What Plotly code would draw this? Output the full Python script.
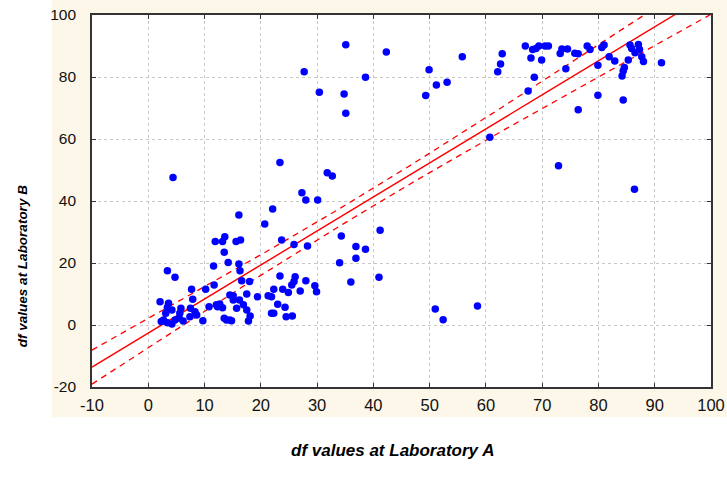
import numpy as np
import plotly.graph_objects as go

# df values at Laboratory A (x) and Laboratory B (y)
lab_a = [
    27.3, 28.0, 30.1, 16.1, 22.1, 20.7, 13.6, 13.2, 11.9, 15.6, 16.4, 13.5, 23.7, 25.9, 28.3,
    11.6, 14.2, 16.1, 16.3, 10.2, 11.7, 16.6, 18.0, 23.4, 26.1, 25.9, 25.5, 28.0, 29.6, 29.9,
    22.3, 23.9, 24.9, 27.0, 17.5, 19.4, 21.3, 21.9, 14.5, 15.1, 16.2, 16.9, 15.7, 17.5, 18.1,
    12.7, 12.3, 13.2, 10.8, 23.0, 24.3, 21.9, 22.3, 24.5, 25.6, 13.5, 14.8, 17.8, 9.7,
    4.4, 3.4, 4.75, 2.1, 3.6, 3.4, 4.2, 3.1, 2.7, 2.3, 3.4, 4.2, 4.75, 5.6, 5.8, 5.5, 6.2,
    7.7, 7.9, 7.5, 8.3, 7.4, 8.6, 12.1, 13.9, 14.5, 15.1,
    31.8, 32.7, 41.2, 34.3, 36.9, 38.6, 36.9, 34.0, 36.0, 41.0, 23.4,
    27.7, 30.4, 35.1, 34.8, 35.1, 38.6, 42.3, 49.9, 49.3, 51.2, 53.1, 55.8,
    62.1, 62.6, 62.9, 67.0, 68.0, 68.3, 68.9, 69.4, 69.9, 70.5, 71.1, 68.6, 67.5, 73.2, 73.5,
    74.5, 74.2, 75.8, 76.4, 78.0, 78.5, 80.6, 81.0, 81.9, 82.9, 79.9, 79.9, 76.4, 60.7, 72.9,
    84.2, 84.4, 84.6, 84.4, 85.3, 85.6, 85.9, 86.5, 87.1, 87.3, 87.7, 88.0, 91.2,
    51.0, 52.4, 58.5, 86.4,
]
lab_b = [
    42.7, 40.3, 40.3, 35.5, 37.4, 32.6, 28.5, 26.9, 26.9, 26.9, 27.4, 23.5, 27.4, 26.0, 25.5,
    19.0, 20.2, 19.7, 17.5, 11.5, 12.9, 14.3, 14.0, 15.8, 15.6, 14.0, 12.9, 14.3, 12.7, 10.7,
    11.5, 11.5, 10.5, 11.0, 10.0, 9.1, 9.4, 9.1, 9.7, 8.1, 8.1, 6.5, 5.4, 4.8, 2.9,
    6.8, 5.9, 5.6, 5.9, 6.7, 5.7, 3.8, 3.8, 2.7, 2.9, 2.2, 1.4, 1.3, 1.4,
    47.6, 17.5, 15.4, 7.5, 7.0, 5.7, 4.8, 3.8, 1.6, 1.1, 0.7, 0.3, 1.6, 3.8, 5.4, 2.2, 1.3,
    11.5, 8.3, 5.4, 4.3, 2.7, 3.2, 6.5, 1.6, 1.6, 9.4,
    49.1, 48.1, 30.6, 28.7, 25.3, 24.4, 21.5, 20.1, 13.9, 15.4, 52.4,
    81.7, 75.1, 90.4, 74.5, 68.3, 79.9, 88.1, 82.3, 74.0, 77.4, 78.3, 86.5,
    81.7, 84.2, 87.5, 90.0, 86.1, 88.9, 89.2, 90.0, 85.5, 90.0, 90.0, 79.9, 75.5, 87.6, 89.0,
    89.0, 82.7, 87.7, 87.5, 90.0, 88.9, 89.5, 90.3, 86.5, 85.2, 83.8, 74.1, 69.4, 60.6, 51.4,
    80.3, 81.9, 83.1, 72.6, 85.5, 90.3, 89.2, 87.8, 90.5, 88.9, 86.5, 85.0, 84.6,
    5.2, 1.7, 6.1, 43.8,
]

# fitted regression line
fit_intercept = -2.6
fit_slope = 1.0976

x_ticks = [-10, 0, 10, 20, 30, 40, 50, 60, 70, 80, 90, 100]
x_tick_labels = ["-10", "0", "10", "20", "30", "40", "50", "60", "70", "80", "90", "100"]
y_ticks = [-20, 0, 20, 40, 60, 80, 100]
y_tick_labels = ["-20", "0", "20", "40", "60", "80", "100"]
x_title = "df values at Laboratory A"
y_title = "df values at Laboratory B"

# 95% confidence band of the fitted line
xa = np.array(lab_a)
yb = np.array(lab_b)
n = len(xa)
resid = yb - (fit_intercept + fit_slope * xa)
s = np.sqrt(np.sum(resid ** 2) / (n - 2))
sxx = np.sum((xa - xa.mean()) ** 2)
t_val = 1.975
xf = np.linspace(-10, 100, 300)
yf = fit_intercept + fit_slope * xf
half = t_val * s * np.sqrt(1.0 / n + (xf - xa.mean()) ** 2 / sxx)

fig = go.Figure()
red = "#FF0000"
fig.add_trace(go.Scatter(x=xf, y=yf + half, mode="lines",
                         line=dict(color=red, width=1.3, dash="6px,5px"), hoverinfo="skip"))
fig.add_trace(go.Scatter(x=xf, y=yf - half, mode="lines",
                         line=dict(color=red, width=1.3, dash="6px,5px"), hoverinfo="skip"))
fig.add_trace(go.Scatter(x=xf, y=yf, mode="lines",
                         line=dict(color=red, width=1.4), hoverinfo="skip"))
fig.add_trace(go.Scatter(x=lab_a, y=lab_b, mode="markers",
                         marker=dict(color="#0000FF", size=7.5, line=dict(width=0))))

cream = "#FCF7E9"
fig.update_layout(
    width=727, height=490,
    margin=dict(l=92, r=16, t=15, b=103),
    paper_bgcolor="white", plot_bgcolor="white",
    showlegend=False,
    font=dict(family="Liberation Sans, Arial, sans-serif", size=15, color="#111111"),
    shapes=[
        dict(type="rect", xref="paper", yref="paper", x0=-0.0646, x1=1.03, y0=-0.0806, y1=1.05,
             fillcolor=cream, line=dict(width=0), layer="below"),
        dict(type="rect", xref="paper", yref="paper", x0=0, x1=1, y0=0, y1=1,
             fillcolor="white", line=dict(width=0), layer="below"),
    ],
    annotations=[
        dict(text=x_title, xref="paper", yref="paper", x=0.4847, y=-0.172,
             showarrow=False, xanchor="center", yanchor="middle",
             font=dict(size=17, weight="bold", style="italic", color="black")),
        dict(text=y_title, xref="paper", yref="paper", x=-0.113, y=0.325, textangle=-90,
             showarrow=False, xanchor="center", yanchor="middle",
             font=dict(size=13.5, weight="bold", style="italic", color="black")),
    ],
)
axis_common = dict(
    showline=True, linecolor="#333333", linewidth=1.7, mirror="ticks",
    ticks="inside", ticklen=4, tickcolor="#333333", tickwidth=1.2,
    showgrid=True, gridcolor="#C8C8C8", griddash="dot", gridwidth=1,
    zeroline=False, automargin=False,
)
fig.update_xaxes(range=[-10, 100], tickvals=x_ticks, ticktext=x_tick_labels,
                 ticklabelstandoff=2, tickfont=dict(size=16.5), **axis_common)
fig.update_yaxes(range=[-20, 100], tickvals=y_ticks, ticktext=y_tick_labels,
                 ticklabelstandoff=11, tickfont=dict(size=15.5), **axis_common)

fig.write_html("out.html", config={"displayModeBar": False},
               post_script="document.body.style.margin='0px';")
